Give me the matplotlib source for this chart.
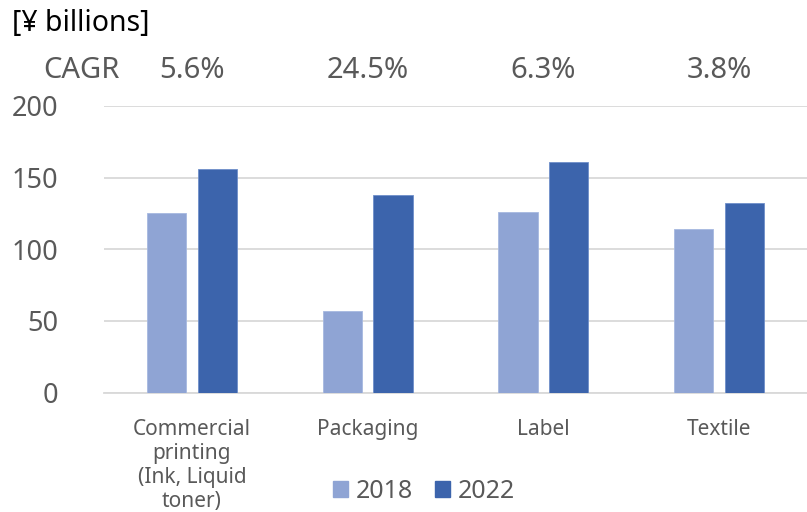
import matplotlib.pyplot as plt
import numpy as np
from matplotlib.patches import Patch

categories = ['Commercial\nprinting\n(Ink, Liquid\ntoner)', 'Packaging', 'Label', 'Textile']
v2018 = [125, 57, 126, 114]
v2022 = [156, 138, 161, 132]
cagr = ['5.6%', '24.5%', '6.3%', '3.8%']
years = ['2018', '2022']

c2018 = '#8fa4d4'
c2022 = '#3c64ac'
grey = '#595959'

plt.rcParams['font.family'] = ['Noto Sans', 'DejaVu Sans']

fig = plt.figure(figsize=(8.07, 5.12), dpi=100)
ax = fig.add_axes([104 / 807, 1 - 392.5 / 512, 1 - 104 / 807, 286.5 / 512])

x = np.arange(len(categories))
w = 0.223
off = 0.144
ax.bar(x - off, v2018, w, color=c2018, edgecolor='#a6b8e0', linewidth=0.6, zorder=3)
ax.bar(x + off, v2022, w, color=c2022, edgecolor='#6f8fca', linewidth=0.6, zorder=3)

ax.set_xlim(-0.5, 3.5)
ax.set_ylim(0, 200)
ax.set_yticks([0, 50, 100, 150, 200])
ax.grid(axis='y', color='#d9d9d9', linewidth=1.3, zorder=0)
for s in ['top', 'right', 'left']:
    ax.spines[s].set_visible(False)
ax.spines['bottom'].set_color('#d9d9d9')
ax.spines['bottom'].set_linewidth(1.3)
ax.tick_params(axis='y', length=0, pad=33, labelsize=19.5, labelcolor=grey)
ax.tick_params(axis='x', length=0, pad=19, labelsize=15, labelcolor=grey)
ax.set_xticks(x)
ax.set_xticklabels(categories, linespacing=1.2, va='top')

# CAGR row
trans = ax.get_xaxis_transform()
ax.text(-0.63, 1.125, 'CAGR', transform=trans, ha='center', va='center',
        fontsize=21, color=grey)
for xi, t in zip(x, cagr):
    ax.text(xi, 1.125, t, transform=trans, ha='center', va='center',
            fontsize=21, color=grey)

fig.text(12 / 807, 1 - 24 / 512, '[¥ billions]', ha='left', va='center',
         fontsize=20.5, color='black')

handles = [Patch(color=c2018), Patch(color=c2022)]
fig.legend(handles, years, loc='center', bbox_to_anchor=(424 / 807, 1 - 491 / 512),
           ncol=2, frameon=False, fontsize=18, labelcolor=grey,
           handlelength=0.6, handleheight=0.6, handletextpad=0.3, columnspacing=0.9)

fig.savefig('out.png', dpi=100)
